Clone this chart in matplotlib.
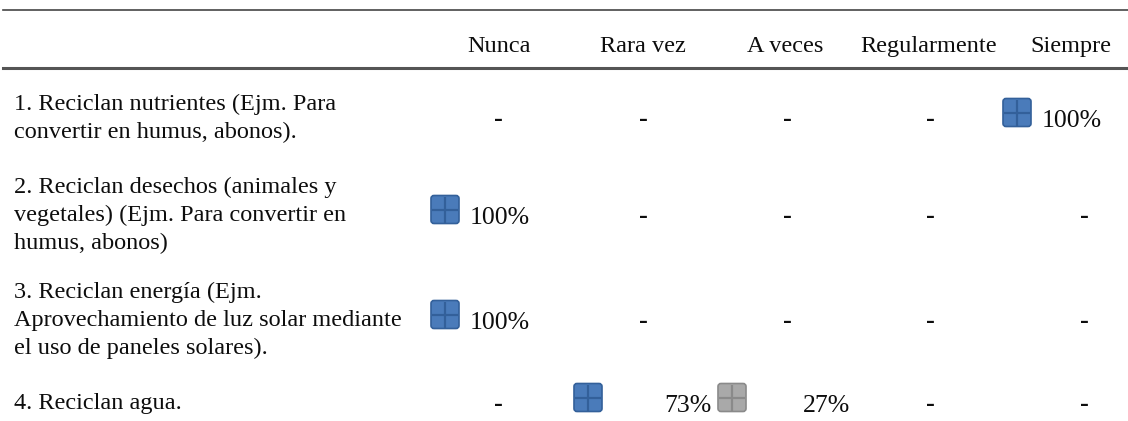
import matplotlib.pyplot as plt
from matplotlib.patches import FancyBboxPatch

# table content
columns = ['Nunca', 'Rara vez', 'A veces', 'Regularmente', 'Siempre']
items = [
    ['1. Reciclan nutrientes (Ejm. Para', 'convertir en humus, abonos).'],
    ['2. Reciclan desechos (animales y', 'vegetales) (Ejm. Para convertir en', 'humus, abonos)'],
    ['3. Reciclan energía (Ejm.', 'Aprovechamiento de luz solar mediante', 'el uso de paneles solares).'],
    ['4. Reciclan agua.'],
]
nunca = [0, 100, 100, 0]
rara_vez = [0, 0, 0, 73]
a_veces = [0, 0, 0, 27]
regularmente = [0, 0, 0, 0]
siempre = [100, 0, 0, 0]
values = [nunca, rara_vez, a_veces, regularmente, siempre]

# layout (pixels)
W, H = 1128, 421
header_x = [499, 643, 785, 929, 1071]
dash_x = [498, 643, 787, 930, 1084]
icon_left = [431, 574, 718, 862, 1003]
pct_right = [530, 711, 850, 990, 1102]
row_center = [116, 213, 318, 401]
line_gap = 28
icon_size = 28

BLUE, BLUE_EDGE = '#4a7bba', '#33609a'
GRAY, GRAY_EDGE = '#a9a9a9', '#8a8a8a'
TXT = '#0d0d0d'

plt.rcParams['font.family'] = ['Liberation Serif', 'DejaVu Serif']

fig = plt.figure(figsize=(W / 100, H / 100), dpi=100)
ax = fig.add_axes([0, 0, 1, 1])
ax.set_xlim(0, W)
ax.set_ylim(H, 0)
ax.axis('off')


def draw_icon(x0, yc, face, edge):
    s = icon_size
    y0 = yc - s / 2
    box = FancyBboxPatch((x0 + 1.5, y0 + 1.5), s - 3, s - 3,
                         boxstyle='round,pad=1.5,rounding_size=3',
                         facecolor=face, edgecolor=edge, linewidth=1.2)
    ax.add_patch(box)
    ax.plot([x0 + s / 2, x0 + s / 2], [y0 + 1, y0 + s - 1], color=edge, lw=1.6,
            solid_capstyle='butt')
    ax.plot([x0 + 1, x0 + s - 1], [yc, yc], color=edge, lw=1.6,
            solid_capstyle='butt')


# rules
ax.plot([3, W], [10, 10], color='#454545', lw=1.2)
ax.plot([3, W], [68, 68], color='#555555', lw=2.2)

for x, name in zip(header_x, columns):
    ax.text(x, 52, name, ha='center', va='baseline', fontsize=17.5, color=TXT)

for r, lines in enumerate(items):
    c = row_center[r]
    top = c - (len(lines) - 1) * line_gap / 2
    for k, line in enumerate(lines):
        ax.text(14, top + k * line_gap + 8, line, ha='left', va='baseline',
                fontsize=17.5, color=TXT)
    row_vals = [v[r] for v in values]
    for j, v in enumerate(row_vals):
        if v == 0:
            ax.text(dash_x[j], c + 10, '-', ha='center', va='baseline',
                    fontsize=19, fontweight='bold', color=TXT)
        else:
            if v == max(row_vals):
                draw_icon(icon_left[j], c - 3.5, BLUE, BLUE_EDGE)
            else:
                draw_icon(icon_left[j], c - 3.5, GRAY, GRAY_EDGE)
            ax.text(pct_right[j], c + 11, '{}%'.format(v), ha='right',
                    va='baseline', fontsize=18.5, color=TXT)

fig.savefig('out.png', dpi=100)
